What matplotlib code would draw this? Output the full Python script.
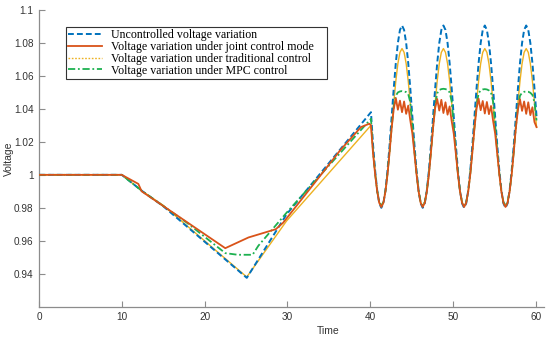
import numpy as np
import matplotlib
matplotlib.use("Agg")
import matplotlib.pyplot as plt

# ---------------- data ----------------
labels = ["Uncontrolled voltage variation",
          "Voltage variation under joint control mode",
          "Voltage variation under traditional control",
          "Voltage variation under MPC control"]

xticks = [0, 10, 20, 30, 40, 50, 60]
yticks = [0.94, 0.96, 0.98, 1.0, 1.02, 1.04, 1.06, 1.08, 1.1]
ytick_labels = ["0.94", "0.96", "0.98", "1", "1.02", "1.04", "1.06", "1.08", "1.1"]

# piecewise part (0 - 40)
blue_t0 = [0, 10, 12.5, 15, 25.1, 29.9, 40.1]
blue_v0 = [1.0, 1.0, 0.990, 0.981, 0.9375, 0.976, 1.038]

orange_t0 = [0, 10, 12.0, 12.4, 22.5, 25.3, 28.6, 29.5, 33.9, 36.4, 38.9, 39.9, 40.1]
orange_v0 = [1.0, 1.0, 0.9945, 0.990, 0.9555, 0.962, 0.967, 0.971, 0.999, 1.015, 1.029, 1.031, 1.030]

yellow_t0 = [0, 10, 12.5, 15, 25.1, 29.9, 40.1]
yellow_v0 = [1.0, 1.0, 0.990, 0.9815, 0.938, 0.972, 1.030]

green_t0 = [0, 10, 12.5, 17.8, 22.5, 24.0, 25.8, 26.5, 29.9, 40.1]
green_v0 = [1.0, 1.0, 0.990, 0.9712, 0.9525, 0.9515, 0.9515, 0.957, 0.977, 1.034]

# oscillating part (40.35 - 60.1, sampled every 0.25)
osc_t = np.arange(40.35, 60.11, 0.25)

blue_osc = [
    1.0182, 1.0028, 0.9906, 0.9827,
    0.9800, 0.9827, 0.9906, 1.0028, 1.0182, 1.0353, 1.0524, 1.0678, 1.0800, 1.0879,
    1.0906, 1.0879, 1.0800, 1.0678, 1.0524, 1.0353, 1.0182, 1.0028, 0.9906, 0.9827,
    0.9800, 0.9827, 0.9906, 1.0028, 1.0182, 1.0353, 1.0524, 1.0678, 1.0800, 1.0879,
    1.0906, 1.0879, 1.0800, 1.0678, 1.0524, 1.0353, 1.0182, 1.0028, 0.9906, 0.9827,
    0.9800, 0.9827, 0.9906, 1.0028, 1.0182, 1.0353, 1.0524, 1.0678, 1.0800, 1.0879,
    1.0906, 1.0879, 1.0800, 1.0678, 1.0524, 1.0353, 1.0182, 1.0028, 0.9906, 0.9827,
    0.9800, 0.9827, 0.9906, 1.0028, 1.0182, 1.0353, 1.0524, 1.0678, 1.0800, 1.0879,
    1.0906, 1.0879, 1.0800, 1.0678, 1.0524, 1.0353]

yellow_osc = [
    1.0140, 1.0007, 0.9901, 0.9833,
    0.9810, 0.9833, 0.9901, 1.0007, 1.0140, 1.0288, 1.0436, 1.0569, 1.0675, 1.0743,
    1.0766, 1.0743, 1.0675, 1.0569, 1.0436, 1.0288, 1.0140, 1.0007, 0.9901, 0.9833,
    0.9810, 0.9833, 0.9901, 1.0007, 1.0140, 1.0288, 1.0436, 1.0569, 1.0675, 1.0743,
    1.0766, 1.0743, 1.0675, 1.0569, 1.0436, 1.0288, 1.0140, 1.0007, 0.9901, 0.9833,
    0.9810, 0.9833, 0.9901, 1.0007, 1.0140, 1.0288, 1.0436, 1.0569, 1.0675, 1.0743,
    1.0766, 1.0743, 1.0675, 1.0569, 1.0436, 1.0288, 1.0140, 1.0007, 0.9901, 0.9833,
    0.9810, 0.9833, 0.9901, 1.0007, 1.0140, 1.0288, 1.0436, 1.0569, 1.0675, 1.0743,
    1.0766, 1.0743, 1.0675, 1.0569, 1.0436, 1.0288]

green_osc = [
    1.0145, 1.0010, 0.9903, 0.9835,
    0.9812, 0.9835, 0.9903, 1.0010, 1.0145, 1.0290, 1.0415, 1.0480, 1.0500, 1.0506,
    1.0508, 1.0506, 1.0502, 1.0490, 1.0440, 1.0300, 1.0145, 1.0010, 0.9903, 0.9835,
    0.9812, 0.9835, 0.9903, 1.0010, 1.0145, 1.0290, 1.0420, 1.0495, 1.0515, 1.0520,
    1.0522, 1.0520, 1.0515, 1.0500, 1.0445, 1.0300, 1.0145, 1.0010, 0.9903, 0.9835,
    0.9812, 0.9835, 0.9903, 1.0010, 1.0145, 1.0290, 1.0420, 1.0495, 1.0512, 1.0518,
    1.0520, 1.0518, 1.0512, 1.0498, 1.0445, 1.0300, 1.0145, 1.0010, 0.9903, 0.9835,
    0.9812, 0.9835, 0.9903, 1.0010, 1.0145, 1.0290, 1.0410, 1.0480, 1.0498, 1.0504,
    1.0505, 1.0504, 1.0498, 1.0485, 1.0440, 1.0330]

orange_osc = [
    1.0130, 1.0005, 0.9900, 0.9830,
    0.9805, 0.9830, 0.9900, 1.0005, 1.0140, 1.0285, 1.0400, 1.0465, 1.0395, 1.0450,
    1.0380, 1.0445, 1.0370, 1.0420, 1.0330, 1.0250, 1.0130, 1.0005, 0.9900, 0.9830,
    0.9805, 0.9830, 0.9900, 1.0005, 1.0140, 1.0285, 1.0405, 1.0460, 1.0390, 1.0455,
    1.0375, 1.0440, 1.0365, 1.0415, 1.0325, 1.0250, 1.0130, 1.0005, 0.9900, 0.9830,
    0.9805, 0.9830, 0.9900, 1.0005, 1.0140, 1.0285, 1.0400, 1.0462, 1.0392, 1.0448,
    1.0372, 1.0442, 1.0368, 1.0418, 1.0328, 1.0250, 1.0130, 1.0005, 0.9900, 0.9830,
    0.9805, 0.9830, 0.9900, 1.0005, 1.0140, 1.0285, 1.0395, 1.0458, 1.0388, 1.0445,
    1.0370, 1.0440, 1.0362, 1.0410, 1.0320, 1.0290]

colors = ["#0072BD", "#D95319", "#EDB120", "#1DB150"]

# ---------------- plot ----------------
plt.rcParams['font.family'] = ['Liberation Sans', 'DejaVu Sans']

fig = plt.figure(figsize=(5.5, 3.38), dpi=100)
ax = fig.add_axes([39 / 550, 1 - 306.7 / 338, 505 / 550, 296.7 / 338])

def join(t0, v0, v1):
    return np.concatenate([t0, osc_t]), np.concatenate([v0, v1])

bt, bv = join(blue_t0, blue_v0, blue_osc)
ot, ov = join(orange_t0, orange_v0, orange_osc)
yt, yv = join(yellow_t0, yellow_v0, yellow_osc)
gt, gv = join(green_t0, green_v0, green_osc)

ax.plot(bt, bv, color=colors[0], lw=1.4, ls=(0, (3.0, 1.6)), zorder=3)
ax.plot(ot, ov, color=colors[1], lw=1.3, ls='-', zorder=4)
ax.plot(yt, yv, color=colors[2], lw=1.0, ls='-', zorder=2)
ax.plot(gt, gv, color=colors[3], lw=1.3, ls=(0, (4.0, 1.5, 1.0, 1.5)), zorder=3)

# legend proxies (yellow shown dotted in legend)
h1, = ax.plot([], [], color=colors[0], lw=1.4, ls=(0, (3.0, 1.6)))
h2, = ax.plot([], [], color=colors[1], lw=1.3, ls='-')
h3, = ax.plot([], [], color=colors[2], lw=1.0, ls=(0, (1.2, 1.2)))
h4, = ax.plot([], [], color=colors[3], lw=1.3, ls=(0, (4.0, 1.5, 1.0, 1.5)))

ax.set_xlim(0, 61)
ax.set_ylim(0.92, 1.1)
ax.set_xticks(xticks)
ax.set_yticks(yticks)
ax.set_yticklabels(ytick_labels)

for s in ['top', 'right']:
    ax.spines[s].set_visible(False)
for s in ['left', 'bottom']:
    ax.spines[s].set_color('#8c8c8c')
    ax.spines[s].set_linewidth(0.9)
ax.tick_params(direction='in', length=4, width=0.8, color='#8c8c8c',
               labelsize=7.2, labelcolor='#333333', pad=4)

ax.set_xlabel("Time", fontsize=7.5, color='#333333')
ax.xaxis.set_label_coords(0.572, -0.065)
ax.set_ylabel("Voltage", fontsize=7.5, color='#333333')
ax.yaxis.set_label_coords(-0.050, 0.50)

x0 = (66 - 39) / 505
y_top = (306.7 - 27) / 296.7
w = 261 / 505
h = 50 / 296.7
leg = ax.legend([h1, h2, h3, h4], labels, loc='upper left',
                bbox_to_anchor=(x0, y_top - h, w, h), mode='expand',
                borderaxespad=0,
                prop={'family': 'Liberation Serif', 'size': 8.6},
                handlelength=2.8, handletextpad=0.8, labelspacing=-0.02,
                borderpad=0.2, fancybox=False, framealpha=1,
                edgecolor='#333333')
leg.get_frame().set_linewidth(0.8)

fig.savefig("out.png", dpi=100, facecolor='white')
